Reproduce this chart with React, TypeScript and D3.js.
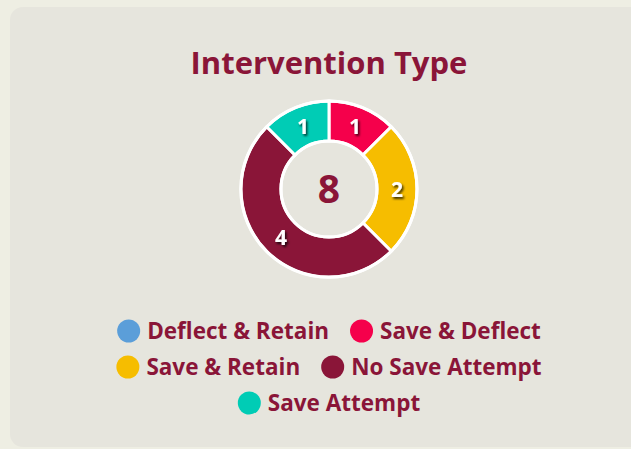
import React, { useRef, useEffect } from 'react';
import * as d3 from 'd3';

const WIDTH = 631;
const HEIGHT = 449;
const MAROON = '#8a1538';

const categories = ['Deflect & Retain', 'Save & Deflect', 'Save & Retain', 'No Save Attempt', 'Save Attempt'];
const counts = [0, 1, 2, 4, 1];
const colors = ['#5b9ed9', '#f5004b', '#f6bd00', '#8a1538', '#00ccb5'];

const FONT = '"Open Sans", sans-serif';

const App = () => {
  const svgRef = useRef(null);

  useEffect(() => {
    const svg = d3.select(svgRef.current);
    svg.selectAll('*').remove();

    // page + card background
    svg.append('rect').attr('width', WIDTH).attr('height', HEIGHT).attr('fill', '#eeeee3');
    svg.append('rect')
      .attr('x', 10).attr('y', 7)
      .attr('width', WIDTH + 40).attr('height', HEIGHT - 9)
      .attr('rx', 13).attr('fill', '#e6e5dd');

    const cx = 329;
    const cy = 189;

    svg.append('text')
      .attr('x', cx).attr('y', 74)
      .attr('text-anchor', 'middle')
      .attr('font-family', FONT)
      .attr('font-weight', 700)
      .attr('font-size', 31)
      .attr('fill', MAROON)
      .text('Intervention Type');

    const data = categories.map((c, i) => ({ name: c, value: counts[i], color: colors[i] }));
    const total = d3.sum(counts);

    const pie = d3.pie().value(d => d.value).sort(null);
    const arcs = pie(data).filter(a => a.data.value > 0);
    const arc = d3.arc().innerRadius(48).outerRadius(88);

    const defs = svg.append('defs');
    const f = defs.append('filter').attr('id', 'lblshadow').attr('x', '-50%').attr('y', '-50%').attr('width', '200%').attr('height', '200%');
    f.append('feDropShadow').attr('dx', 1.5).attr('dy', 2).attr('stdDeviation', 1.2).attr('flood-color', '#000').attr('flood-opacity', 0.75);

    const g = svg.append('g').attr('transform', `translate(${cx},${cy})`);
    g.selectAll('path')
      .data(arcs)
      .join('path')
      .attr('d', arc)
      .attr('fill', d => d.data.color)
      .attr('stroke', 'white')
      .attr('stroke-width', 3);

    // white rings
    g.append('circle').attr('r', 88).attr('fill', 'none').attr('stroke', 'white').attr('stroke-width', 3);
    g.append('circle').attr('r', 48).attr('fill', 'none').attr('stroke', 'white').attr('stroke-width', 3);

    g.selectAll('text.val')
      .data(arcs)
      .join('text')
      .attr('class', 'val')
      .attr('transform', d => `translate(${arc.centroid(d)})`)
      .attr('text-anchor', 'middle')
      .attr('dy', '0.36em')
      .attr('font-family', FONT)
      .attr('font-weight', 700)
      .attr('font-size', 21)
      .attr('fill', 'white')
      .attr('filter', 'url(#lblshadow)')
      .text(d => d.data.value);

    g.append('text')
      .attr('text-anchor', 'middle')
      .attr('dy', '0.37em')
      .attr('font-family', FONT)
      .attr('font-weight', 700)
      .attr('font-size', 39)
      .attr('fill', MAROON)
      .text(total);

    // legend, wrapped into centered rows
    const legend = svg.append('g');
    const R = 11.5;
    const GAP = 7;
    const ITEM_GAP = 21;
    const MAX_W = 480;
    const items = data.map(d => {
      const it = legend.append('g');
      it.append('circle').attr('r', R).attr('fill', d.color);
      const t = it.append('text')
        .attr('x', R + GAP)
        .attr('dy', '0.36em')
        .attr('font-family', FONT)
        .attr('font-weight', 700)
        .attr('font-size', 22.5)
        .attr('fill', MAROON)
        .text(d.name);
      const w = R * 2 + GAP + t.node().getComputedTextLength();
      return { it, w };
    });

    const rows = [];
    let row = [];
    let rowW = 0;
    items.forEach(item => {
      const add = row.length ? ITEM_GAP + item.w : item.w;
      if (row.length && rowW + add > MAX_W) {
        rows.push({ row, rowW });
        row = [item];
        rowW = item.w;
      } else {
        row.push(item);
        rowW += add;
      }
    });
    if (row.length) rows.push({ row, rowW });

    rows.forEach((r, ri) => {
      let x = cx - r.rowW / 2;
      const y = 331 + ri * 36;
      r.row.forEach(item => {
        item.it.attr('transform', `translate(${x + R},${y})`);
        x += item.w + ITEM_GAP;
      });
    });
  }, []);

  return (
    <svg ref={svgRef} width={WIDTH} height={HEIGHT} style={{ position: 'absolute', left: 0, top: 0 }} />
  );
};

export default App;
